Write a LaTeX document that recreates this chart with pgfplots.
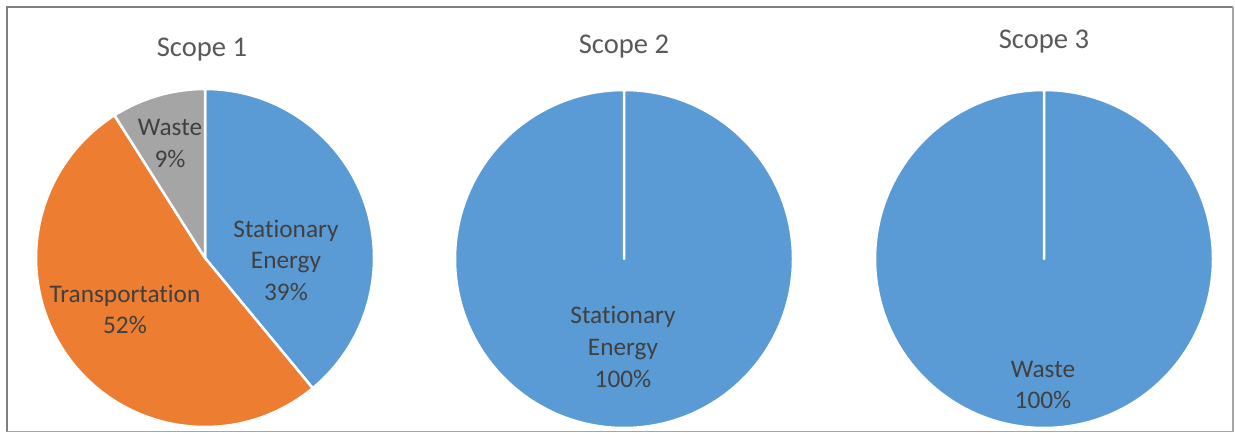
\documentclass[border=0pt]{standalone}
\usepackage{pgfplots}
\pgfplotsset{compat=1.18}
\usepackage{fontspec}
\setmainfont{Carlito}[Ligatures={NoCommon,NoDiscretionary}]
\definecolor{cBlue}{HTML}{5B9BD5}
\definecolor{cOrange}{HTML}{ED7D31}
\definecolor{cGray}{HTML}{A5A5A5}
\definecolor{cText}{HTML}{404040}
\definecolor{cTitle}{HTML}{595959}
% #1 = cumulative share before this slice (%), #2 = share (%), #3 = colour
\newcommand{\slice}[3]{%
  \fill[#3, draw=white, line width=2.5bp, line join=round]
    (axis cs:0,0) -- ++({90-3.6*#1}:169bp)
    arc[start angle={90-3.6*#1}, delta angle={-3.6*#2}, radius=169bp] -- cycle;}
\pgfplotsset{pie/.style={hide axis, scale only axis, width=338bp, height=338bp,
  xmin=-1, xmax=1, ymin=-1, ymax=1, clip=false, anchor=origin}}
\begin{document}
\begin{tikzpicture}
  \path[fill=white] (0bp,0bp) rectangle (1235bp,433bp);
  % frame
  \draw[color=black!50, line width=2bp] (7bp,1.5bp) -- (7bp,426bp) -- (1233bp,426bp);
  \draw[color=black!35, line width=1.5bp] (7bp,1.5bp) -- (1233bp,1.5bp) -- (1233bp,426bp);

  % Scope 1: Stationary Energy 39, Transportation 52, Waste 9
  \begin{axis}[pie, at={(205bp,175bp)}]
    \slice{0}{39}{cBlue}
    \slice{39}{52}{cOrange}
    \slice{91}{9}{cGray}
  \end{axis}
  % Scope 2: Stationary Energy 100
  \begin{axis}[pie, at={(624bp,174bp)}]
    \slice{0}{100}{cBlue}
  \end{axis}
  % Scope 3: Waste 100
  \begin{axis}[pie, at={(1044bp,174bp)}]
    \slice{0}{100}{cBlue}
  \end{axis}

  \begin{scope}[x=1bp, y=1bp]
  % titles
  \begin{scope}[every node/.style={anchor=base, inner sep=0pt, text=cTitle, font=\fontsize{28.7}{34}\selectfont}]
    \node at (202,377) {Scope 1};
    \node at (624,380) {Scope 2};
    \node at (1044,385) {Scope 3};
  \end{scope}
  % data labels
  \begin{scope}[every node/.style={anchor=base, inner sep=0pt, text=cText, font=\fontsize{25.4}{32}\selectfont}]
    \node at (170,298) {Waste};
    \node at (170,266) {9\%};
    \node at (286,196) {Stationary};
    \node at (286,165) {Energy};
    \node at (286,133) {39\%};
    \node at (125,131) {Transportation};
    \node at (125,100) {52\%};
    \node at (623,110) {Stationary};
    \node at (623,78) {Energy};
    \node at (623,46) {100\%};
    \node at (1043,56) {Waste};
    \node at (1043,25) {100\%};
  \end{scope}
  \end{scope}
  \pgfresetboundingbox
  \path (0bp,0bp) rectangle (1235bp,433bp);
\end{tikzpicture}
\end{document}
